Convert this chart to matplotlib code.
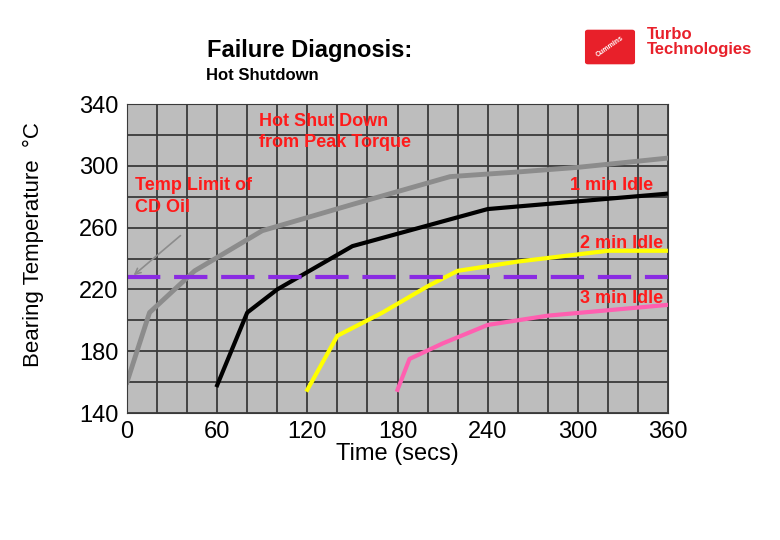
import matplotlib.pyplot as plt
from matplotlib.patches import FancyBboxPatch

plt.rcParams['font.family'] = ['Liberation Sans', 'DejaVu Sans']

gray_t = [0, 15, 45, 90, 150, 215, 260, 300, 360]
gray_v = [160, 205, 232, 258, 275, 293, 296, 299, 305]
black_t = [60, 80, 100, 150, 240, 300, 360]
black_v = [158, 205, 220, 248, 272, 277, 282]
yellow_t = [120, 140, 170, 200, 220, 260, 320, 360]
yellow_v = [155, 190, 205, 222, 232, 238, 245, 245]
pink_t = [180, 188, 210, 240, 280, 360]
pink_v = [155, 175, 185, 197, 203, 210]
limit = 228

fig = plt.figure(figsize=(7.8, 5.4), dpi=100)
ax = fig.add_axes([127/780, 1-413/540, 541/780, 309/540])
ax.set_facecolor('#bdbdbd')
ax.set_xlim(0, 360)
ax.set_ylim(140, 340)
ax.set_xticks(range(0, 361, 60))
ax.set_yticks(range(140, 341, 40))
ax.set_xticks(range(0, 361, 20), minor=True)
ax.set_yticks(range(140, 341, 20), minor=True)
ax.grid(True, which='both', color='#3a3a3a', lw=1.3)
ax.set_axisbelow(True)
for s in ax.spines.values():
    s.set_color('#3a3a3a')
ax.tick_params(which='both', length=0, labelsize=17, pad=6)

ax.plot(gray_t, gray_v, color='#8c8c8c', lw=3.5)
ax.plot(black_t, black_v, color='black', lw=3)
ax.plot(yellow_t, yellow_v, color='#ffff00', lw=3)
ax.plot(pink_t, pink_v, color='#ff5fb0', lw=3)
ax.axhline(limit, color='#8a2be2', lw=3, dashes=(8, 3.3))

red = '#ff1a1a'
kw = dict(color=red, fontsize=13, fontweight='bold', va='center', linespacing=1.35)
ax.text(5, 280, 'Temp Limit of\nCD Oil', **kw)
ax.annotate('', xy=(3, 228), xytext=(37, 256),
            arrowprops=dict(arrowstyle='->', color='#8c8c8c', lw=1.2))
ax.text(88, 322, 'Hot Shut Down\nfrom Peak Torque', **kw)
ax.text(350, 287.5, '1 min Idle', ha='right', **kw)
ax.text(357, 250, '2 min Idle', ha='right', **kw)
ax.text(357, 214, '3 min Idle', ha='right', **kw)

ax.set_xlabel('Time (secs)', fontsize=17, labelpad=0)
fig.text(33/780, 1-245/540, 'Bearing Temperature  \u00b0C', rotation=90, fontsize=16, ha='center', va='center')
fig.text(310/780, 1-50/540, 'Failure Diagnosis:', fontsize=17, fontweight='bold', ha='center', va='center')
fig.text(262/780, 1-75/540, 'Hot Shutdown', fontsize=12, fontweight='bold', ha='center', va='center')

# logo
fig.patches.append(FancyBboxPatch((588/780, 1-62/540), 44/780, 30/540, boxstyle='round,pad=0.003',
                                  transform=fig.transFigure, color='#e8202a'))
fig.text(610/780, 1-47/540, 'Cummins', rotation=35, color='white', fontsize=5, fontweight='bold', ha='center', va='center')
fig.text(647/780, 1-42/540, 'Turbo\nTechnologies', color='#e8202a', fontsize=12, fontweight='bold', ha='left', va='center', linespacing=0.95)

fig.savefig('out.png', dpi=100)
